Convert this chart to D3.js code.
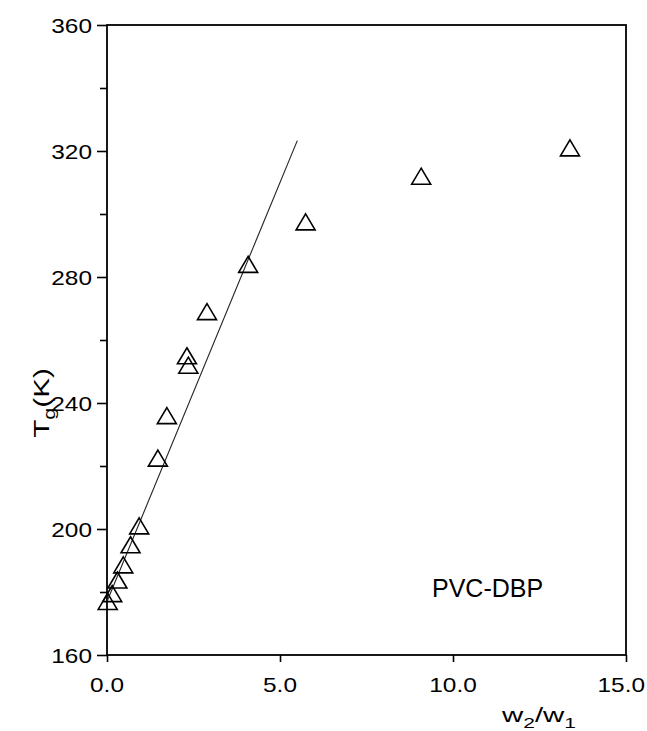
<!DOCTYPE html>
<html>
<head>
<meta charset="utf-8">
<script src="https://cdn.jsdelivr.net/npm/d3@7"></script>
<style>
  html, body { margin: 0; padding: 0; background: #fff; }
  svg { display: block; }
  text { font-family: "Liberation Sans", Arial, sans-serif; fill: #000; }
</style>
</head>
<body>
<svg id="chart" width="647" height="731"></svg>
<script>
// ---- data ----
const ratioW = [0.02, 0.15, 0.30, 0.47, 0.68, 0.93, 1.47, 1.73, 2.31, 2.35, 2.89, 4.08, 5.74, 9.08, 13.38];
const tgK    = [177, 179.5, 183.8, 188.6, 195, 201, 222.5, 236, 255, 252, 269, 284, 297.5, 312, 321];
const fitX   = [0, 5.5];
const fitY   = [177, 323.3];
const xMajorTicks = [0, 5, 10, 15];
const xTickLabels = ["0.0", "5.0", "10.0", "15.0"];
const yMajorTicks = [160, 200, 240, 280, 320, 360];
const yMinorTicks = [180, 220, 260, 300, 340];
const seriesLabel = "PVC-DBP";

// ---- layout ----
const svg = d3.select("#chart");
const x = d3.scaleLinear().domain([0, 15]).range([107, 626]);
const y = d3.scaleLinear().domain([160, 360]).range([655, 25]);

// frame
svg.append("rect")
  .attr("x", x(0)).attr("y", y(360))
  .attr("width", x(15) - x(0)).attr("height", y(160) - y(360))
  .attr("fill", "none").attr("stroke", "#000").attr("stroke-width", 1.8);

// y axis ticks
const yAxis = d3.axisLeft(y).tickValues(yMajorTicks).tickSize(10).tickFormat("");
const gy = svg.append("g").attr("transform", `translate(${x(0)},0)`).call(yAxis);
gy.select(".domain").remove();
gy.selectAll("line").attr("stroke", "#000").attr("stroke-width", 1.6);
const yAxisMinor = d3.axisLeft(y).tickValues(yMinorTicks).tickSize(7).tickFormat("");
const gym = svg.append("g").attr("transform", `translate(${x(0)},0)`).call(yAxisMinor);
gym.select(".domain").remove();
gym.selectAll("line").attr("stroke", "#000").attr("stroke-width", 1.6);

// y tick labels (stretched plotter-style)
svg.append("g").selectAll("text").data(yMajorTicks).join("text")
  .attr("transform", d => `translate(92,${y(d) + 7.5}) scale(1.22,1)`)
  .attr("text-anchor", "end")
  .style("font-size", "20px")
  .text(d => String(d));

// x axis ticks
const xAxis = d3.axisBottom(x).tickValues(xMajorTicks).tickSize(7).tickFormat("");
const gx = svg.append("g").attr("transform", `translate(0,${y(160)})`).call(xAxis);
gx.select(".domain").remove();
gx.selectAll("line").attr("stroke", "#000").attr("stroke-width", 1.6);

svg.append("g").selectAll("text").data(xMajorTicks).join("text")
  .attr("transform", (d, i) => i === 3
      ? `translate(645,692) scale(1.22,1)`
      : `translate(${x(d)},692) scale(1.22,1)`)
  .attr("text-anchor", (d, i) => i === 3 ? "end" : "middle")
  .style("font-size", "20px")
  .text((d, i) => xTickLabels[i]);

// axis titles
const xt = svg.append("text")
  .attr("transform", "translate(539,722) scale(1.4,1)")
  .attr("text-anchor", "middle")
  .style("font-size", "21px");
xt.append("tspan").text("w");
xt.append("tspan").attr("dy", 6).style("font-size", "15px").text("2");
xt.append("tspan").attr("dy", -6).text("/w");
xt.append("tspan").attr("dy", 6).style("font-size", "15px").text("1");

const yt = svg.append("text")
  .attr("transform", "translate(49,403) rotate(-90) scale(1.35,1)")
  .attr("text-anchor", "middle")
  .style("font-size", "22px");
yt.append("tspan").text("T");
yt.append("tspan").attr("dy", 6).style("font-size", "16px").text("g");
yt.append("tspan").attr("dy", -6).text("(K)");

// fit line
svg.append("line")
  .attr("x1", x(fitX[0])).attr("y1", y(fitY[0]))
  .attr("x2", x(fitX[1])).attr("y2", y(fitY[1]))
  .attr("stroke", "#222").attr("stroke-width", 1.1);

// triangle markers
const pts = ratioW.map((v, i) => [v, tgK[i]]);
const tri = "M0,-8 L9.5,8 L-9.5,8 Z";
svg.append("g").selectAll("path").data(pts).join("path")
  .attr("d", tri)
  .attr("transform", d => `translate(${x(d[0])},${y(d[1])})`)
  .attr("fill", "none").attr("stroke", "#000").attr("stroke-width", 1.6)
  .attr("stroke-linejoin", "miter");

// series label
svg.append("text")
  .attr("x", 432).attr("y", 597)
  .style("font-size", "25px")
  .text(seriesLabel);
</script>
</body>
</html>
